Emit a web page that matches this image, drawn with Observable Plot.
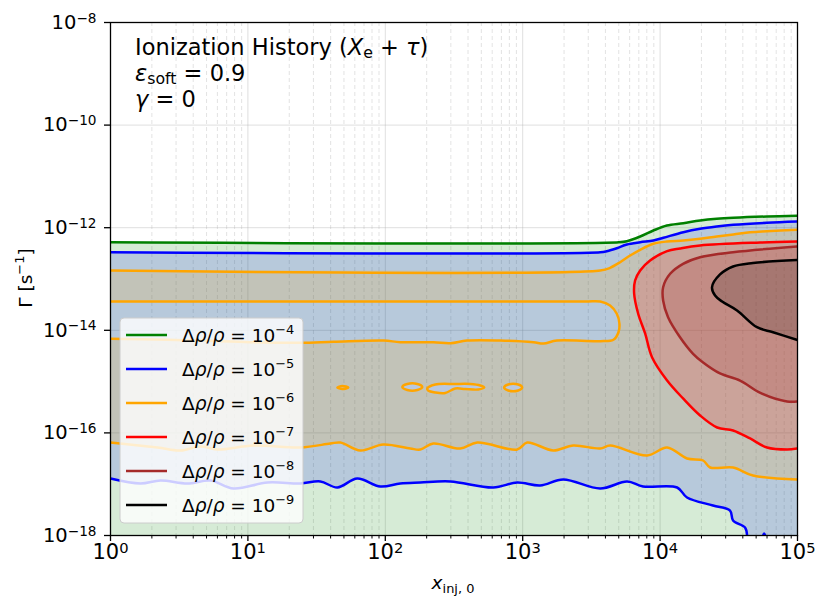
<!DOCTYPE html>
<html><head><meta charset="utf-8">
<script src="https://cdn.jsdelivr.net/npm/d3@7"></script>
<script src="https://cdn.jsdelivr.net/npm/@observablehq/plot@0.6"></script>
<style>
html,body{margin:0;padding:0;background:#fff;}
#chart{position:relative;width:830px;height:611px;}
svg text{white-space:pre;}
</style></head><body><div id="chart"></div>
<script>
// Contour data, as [log10 x_inj,0 , log10 Γ]
const greenLine = [[0,-12.283],[3.70,-12.283],[3.758,-12.263],[3.855,-12.172],[3.951,-12.055],[4.049,-11.957],[4.169,-11.912],[4.291,-11.860],[4.412,-11.827],[4.533,-11.807],[4.776,-11.782],[5,-11.768]];
const blueTop = [[0,-12.478],[3.564,-12.478],[3.612,-12.458],[3.685,-12.400],[3.758,-12.327],[3.855,-12.283],[3.951,-12.250],[4.024,-12.197],[4.169,-12.088],[4.291,-12.021],[4.412,-11.977],[4.533,-11.944],[4.776,-11.904],[5,-11.879]];
const blueBottom = [[0,-16.889],[0.218,-16.986],[0.364,-16.928],[0.560,-16.986],[0.727,-16.928],[0.895,-17.084],[1.142,-16.967],[1.382,-16.986],[1.527,-16.947],[1.651,-17.064],[1.796,-16.889],[1.964,-17.045],[2.109,-16.986],[2.255,-16.967],[2.473,-16.947],[2.785,-17.064],[2.960,-16.967],[3.127,-17.025],[3.295,-16.908],[3.564,-17.084],[3.760,-16.947],[3.876,-17.045],[4.124,-17.064],[4.196,-17.259],[4.385,-17.415],[4.509,-17.513],[4.531,-17.708],[4.618,-17.844],[4.633,-18]];
const blueBlip = [[4.750,-18],[4.757,-17.96],[4.765,-18]];
const orangeTop = [[0,-12.834],[3.564,-12.834],[3.636,-12.782],[3.709,-12.673],[3.782,-12.542],[3.855,-12.431],[3.951,-12.314],[4.049,-12.269],[4.169,-12.250],[4.291,-12.216],[4.412,-12.172],[4.533,-12.133],[4.655,-12.088],[4.776,-12.068],[5,-12.041]];
const orangeLoop = [[0,-13.439],[3.45,-13.439],[3.564,-13.439],[3.636,-13.517],[3.685,-13.678],[3.704,-13.873],[3.697,-14.037],[3.660,-14.185],[3.564,-14.212],[3.249,-14.199],[3.151,-14.257],[3.079,-14.232],[2.836,-14.199],[2.594,-14.199],[2.473,-14.251],[2.351,-14.232],[2.109,-14.232],[1.988,-14.199],[1.624,-14.224],[1.382,-14.244],[1.018,-14.232],[0.655,-14.199],[0.412,-14.185],[0,-14.166]];
const orangeBottom = [[0,-16.187],[0.342,-16.285],[0.509,-16.343],[0.655,-16.265],[0.778,-16.324],[1.040,-16.246],[1.382,-16.285],[1.600,-16.207],[1.673,-16.187],[1.818,-16.343],[1.985,-16.226],[2.182,-16.304],[2.255,-16.324],[2.349,-16.207],[2.545,-16.304],[2.669,-16.187],[2.960,-16.324],[3.033,-16.187],[3.222,-16.343],[3.367,-16.246],[3.564,-16.304],[3.636,-16.246],[3.905,-16.441],[4.051,-16.285],[4.196,-16.499],[4.313,-16.538],[4.364,-16.674],[4.531,-16.674],[4.676,-16.830],[5,-16.908]];
const orangeIslands = [
  [[1.651,-15.115],[1.687,-15.086],[1.731,-15.115],[1.687,-15.144]],
  [[2.124,-15.105],[2.160,-15.047],[2.233,-15.047],[2.269,-15.105],[2.233,-15.164],[2.160,-15.164]],
  [[2.305,-15.135],[2.364,-15.057],[2.509,-15.047],[2.618,-15.047],[2.691,-15.076],[2.720,-15.115],[2.676,-15.154],[2.582,-15.144],[2.509,-15.135],[2.436,-15.222],[2.364,-15.212],[2.312,-15.174]],
  [[2.865,-15.115],[2.895,-15.057],[2.967,-15.057],[2.996,-15.115],[2.967,-15.174],[2.895,-15.174]]
];
const redLine = [[5,-12.269],[4.727,-12.289],[4.291,-12.347],[4.145,-12.405],[4.051,-12.458],[3.927,-12.639],[3.855,-12.834],[3.818,-13.029],[3.811,-13.283],[3.840,-13.673],[3.891,-14.062],[3.942,-14.530],[4.051,-14.979],[4.167,-15.329],[4.291,-15.661],[4.415,-15.895],[4.531,-15.953],[4.655,-16.109],[4.778,-16.285],[4.924,-16.324],[5,-16.304]];
const brownLine = [[5,-12.366],[4.531,-12.478],[4.291,-12.575],[4.167,-12.704],[4.073,-12.899],[4.022,-13.160],[4.022,-13.419],[4.058,-13.745],[4.145,-14.135],[4.240,-14.458],[4.313,-14.628],[4.436,-14.842],[4.582,-14.979],[4.73,-15.22],[4.924,-15.388],[5,-15.388]];
const blackLine = [[5,-12.630],[4.676,-12.688],[4.531,-12.756],[4.436,-12.912],[4.378,-13.160],[4.400,-13.322],[4.451,-13.439],[4.560,-13.614],[4.705,-13.940],[4.822,-14.037],[5,-14.189]];

const levelExps = [-4, -5, -6, -7, -8, -9];
const levelColors = ["green", "blue", "orange", "red", "brown", "black"];
const fillOpacity = [0.16, 0.14, 0.155, 0.16, 0.19, 0.15];

const xMajor = [1, 10, 100, 1000, 10000, 100000];
const yMajor = [1e-18, 1e-16, 1e-14, 1e-12, 1e-10, 1e-8];
const xMinor = [];
for (let e = 0; e < 5; e++) for (let k = 2; k <= 9; k++) xMinor.push(k * 10 ** e);

const pts = a => a.map(([lx, ly]) => ({x: 10 ** lx, y: 10 ** ly}));
const rev = a => a.slice().reverse();

const greenFill = [...greenLine, [5, -18], [0, -18]];
const blueFill = [...blueTop, [5, -18], ...rev(blueBottom)];
const orangeFill = [...orangeTop, ...rev(orangeBottom), ...rev(orangeLoop)];
const fills = [greenFill, blueFill, orangeFill, redLine, brownLine, blackLine];

const marks = [
  Plot.ruleX(xMinor, {stroke: "#b0b0b0", strokeOpacity: 0.35, strokeDasharray: "4,3"}),
  Plot.ruleX(xMajor.slice(1, -1), {stroke: "#b0b0b0", strokeOpacity: 0.4}),
  Plot.ruleY(yMajor.slice(1, -1), {stroke: "#b0b0b0", strokeOpacity: 0.4})
];
fills.forEach((f, i) => marks.push(Plot.line(pts(f), {x: "x", y: "y", fill: levelColors[i], fillOpacity: fillOpacity[i], stroke: "none", clip: true})));
orangeIslands.forEach(isl => marks.push(Plot.line(pts(isl), {x: "x", y: "y", fill: "#b9c8de", stroke: "none", curve: "catmull-rom-closed", clip: true})));
const lineSets = [[greenLine], [blueTop, blueBottom, blueBlip], [orangeTop, orangeLoop, orangeBottom], [redLine], [brownLine], [blackLine]];
lineSets.forEach((set, i) => set.forEach(l => marks.push(Plot.line(pts(l), {x: "x", y: "y", stroke: levelColors[i], strokeWidth: 2.5, curve: "catmull-rom", clip: true}))));
orangeIslands.forEach(isl => marks.push(Plot.line(pts(isl), {x: "x", y: "y", stroke: "orange", strokeWidth: 2.5, curve: "catmull-rom-closed", clip: true})));
marks.push(Plot.frame({stroke: "black", strokeWidth: 1.3}));
const fmt = d => "10^" + String(Math.round(Math.log10(d))).replace("-", "\u2212");
marks.push(Plot.axisX(xMajor, {tickSize: 6, tickPadding: 3, tickFormat: fmt, fontSize: 21, label: null, strokeWidth: 1.3}));
marks.push(Plot.axisX(xMinor, {tickSize: 3.5, tickFormat: () => "", label: null, strokeWidth: 1}));
marks.push(Plot.axisY(yMajor, {tickSize: 6, tickPadding: 8, tickFormat: fmt, fontSize: 19.5, label: null, strokeWidth: 1.3}));

const svg = Plot.plot({
  width: 830, height: 611,
  marginLeft: 110, marginRight: 33, marginTop: 22, marginBottom: 76,
  style: {fontFamily: "DejaVu Sans, sans-serif", fontSize: "17px", color: "black", background: "white"},
  x: {type: "log", domain: [1, 1e5], label: null},
  y: {type: "log", domain: [1e-18, 1e-8], label: null},
  marks
});
document.getElementById("chart").appendChild(svg);

const root = d3.select(svg);
root.selectAll("text").each(function () {
  const m = this.textContent.match(/^10\^(.+)$/);
  if (m) {
    this.textContent = "10";
    d3.select(this).append("tspan").attr("dy", "-0.45em").attr("font-size", "0.7em").text(m[1]);
  }
});

function rich(sel, x, y, parts, fs, anchor, subShift) {
  const t = sel.append("text").attr("x", x).attr("y", y).attr("font-size", fs)
    .attr("text-anchor", anchor || "start").attr("fill", "black")
    .attr("font-family", "DejaVu Sans, sans-serif");
  let shift = 0;
  for (const p of parts) {
    let target = 0, size = fs;
    if (p.s === "sup") { target = -0.42 * fs; size = 0.7 * fs; }
    if (p.s === "sub") { target = (subShift || 0.22) * fs; size = 0.7 * fs; }
    const ts = t.append("tspan").attr("dy", target - shift).attr("font-size", size).text(p.t);
    if (p.i) ts.attr("font-style", "italic");
    shift = target;
  }
  return t;
}

const g = root.append("g");
rich(g, 135, 55, [{t: "Ionization History ("}, {t: "X", i: 1}, {t: "e", s: "sub"}, {t: " + "}, {t: "\u03c4", i: 1}, {t: ")"}], 22.5, "start", 0.15);
rich(g, 135, 81, [{t: "\u03b5", i: 1}, {t: "soft", s: "sub"}, {t: " = 0.9"}], 22.5, "start", 0.12);
rich(g, 135, 107, [{t: "\u03b3", i: 1}, {t: " = 0"}], 22.5);

rich(g, 453, 589, [{t: "x", i: 1}, {t: "inj, 0", s: "sub"}], 18.5, "middle");
rich(g, 0, 0, [{t: "\u0393 [s"}, {t: "\u22121", s: "sup"}, {t: "]"}], 18.5, "middle").attr("transform", "translate(32,278) rotate(-90)");

// legend
const lg = root.append("g");
lg.append("rect").attr("x", 120).attr("y", 318).attr("width", 183).attr("height", 205).attr("rx", 4)
  .attr("fill", "white").attr("fill-opacity", 0.8).attr("stroke", "#cccccc").attr("stroke-width", 1);
levelExps.forEach((e, i) => {
  const cy = 335 + i * 34;
  lg.append("line").attr("x1", 126).attr("x2", 167).attr("y1", cy).attr("y2", cy)
    .attr("stroke", levelColors[i]).attr("stroke-width", 2.5);
  rich(lg, 182, cy + 6.5, [{t: "\u0394"}, {t: "\u03c1", i: 1}, {t: "/"}, {t: "\u03c1", i: 1}, {t: " = 10"}, {t: String(e).replace("-", "\u2212"), s: "sup"}], 18.5);
});
</script></body></html>
